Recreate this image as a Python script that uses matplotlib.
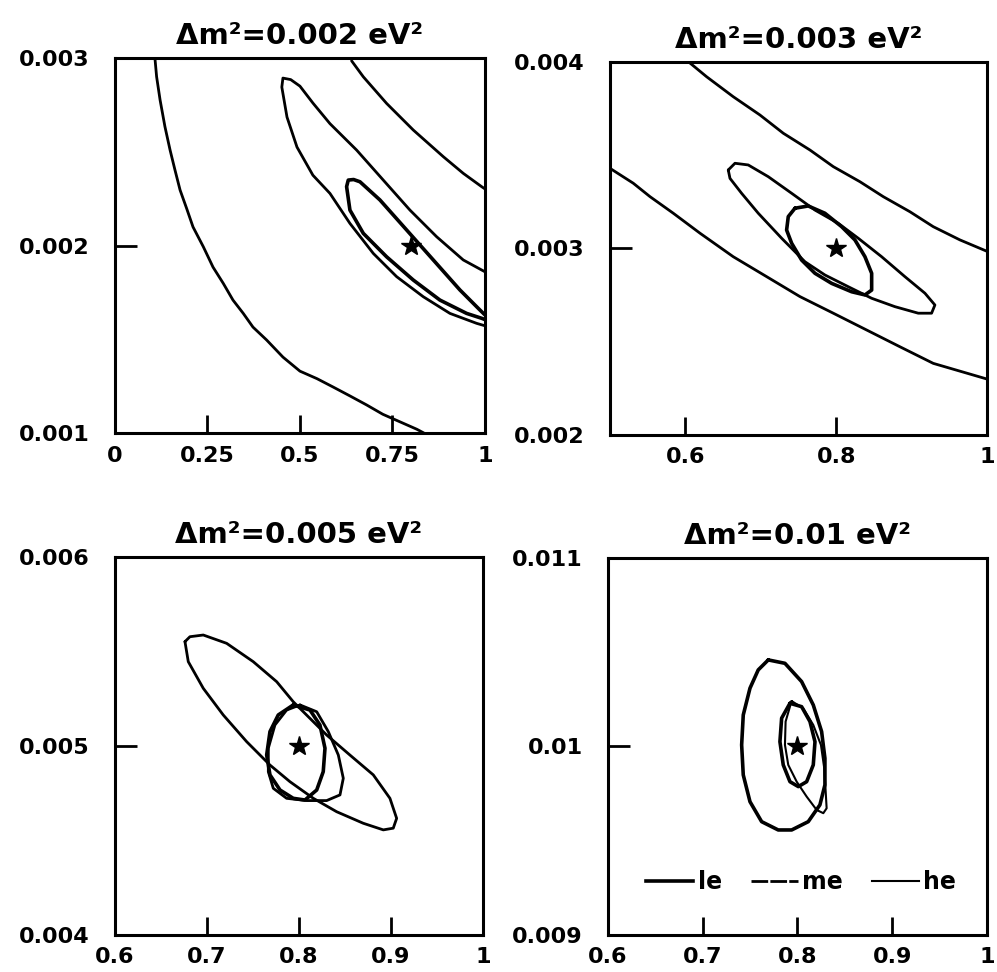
import numpy as np
import matplotlib
matplotlib.use("Agg")
import matplotlib.pyplot as plt

plt.rcParams['font.family'] = ['DejaVu Sans']
plt.rcParams['font.weight'] = 'bold'

titles = ['Δm²=0.002 eV²', 'Δm²=0.003 eV²', 'Δm²=0.005 eV²', 'Δm²=0.01 eV²']
best_x = [0.8, 0.8, 0.8, 0.8]
best_y = [0.002, 0.003, 0.005, 0.01]

# --- panel 1 (0.002 eV^2) ---
p1_band_lo_x = [0.108, 0.1126, 0.122, 0.1351, 0.149, 0.1622, 0.176, 0.1937, 0.211, 0.2387, 0.265, 0.2928,
                0.319, 0.3468, 0.373, 0.41, 0.454, 0.5, 0.546, 0.59, 0.635, 0.68, 0.724, 0.77, 0.816, 0.835]
p1_band_lo_y = [0.003, 0.0029, 0.002776, 0.002634, 0.002509, 0.002403, 0.002296, 0.002198, 0.002099,
                0.001994, 0.001885, 0.001798, 0.001709, 0.001638, 0.001565, 0.001496, 0.001405, 0.00133,
                0.00129, 0.001245, 0.001198, 0.00115, 0.0011, 0.00106, 0.00102, 0.001]
p1_band_hi_x = [0.6396, 0.6712, 0.7342, 0.8063, 0.8874, 0.9414, 0.991, 1.0]
p1_band_hi_y = [0.002985, 0.0029, 0.002758, 0.002616, 0.002474, 0.002385, 0.002314, 0.002302]
# banana: lower edge from x=1 back to the tip, then upper edge out to x=1
p1_he_x = [1.0, 0.9775, 0.9054, 0.8333, 0.7613, 0.6982, 0.6351, 0.5811, 0.535, 0.492, 0.465, 0.451,
           0.454, 0.475, 0.50, 0.535, 0.5811, 0.6532, 0.7252, 0.7973, 0.8694, 0.9414, 1.0]
p1_he_y = [0.001572, 0.001585, 0.001638, 0.001727, 0.001834, 0.001958, 0.002118, 0.002278, 0.002375,
           0.002525, 0.002685, 0.002845, 0.002893, 0.002885, 0.00285, 0.00276, 0.00265, 0.002509,
           0.002349, 0.002189, 0.002047, 0.001923, 0.00186]
p1_le_x = [1.0, 0.991, 0.9505, 0.8784, 0.8063, 0.7342, 0.6712, 0.6351, 0.6261, 0.6306, 0.645, 0.6622,
           0.7162, 0.7883, 0.8604, 0.9324, 0.9865, 1.0]
p1_le_y = [0.001605, 0.001612, 0.001638, 0.001709, 0.001816, 0.00194, 0.002065, 0.002189, 0.002314,
           0.002349, 0.002352, 0.00234, 0.002243, 0.002083, 0.001923, 0.001763, 0.001656, 0.00163]

# --- panel 2 (0.003 eV^2) ---
p2_band_hi_x = [0.6045, 0.6282, 0.6635, 0.6989, 0.7299, 0.7653, 0.7962, 0.8316, 0.8625, 0.8979, 0.9288,
                0.9642, 1.0]
p2_band_hi_y = [0.004, 0.003921, 0.003814, 0.003716, 0.003618, 0.003528, 0.003439, 0.003358, 0.003278,
                0.003197, 0.003117, 0.003046, 0.002985]
p2_band_lo_x = [0.5, 0.5309, 0.5531, 0.584, 0.6194, 0.6635, 0.7078, 0.752, 0.7962, 0.8404, 0.8846,
                0.9288, 1.0]
p2_band_lo_y = [0.00343, 0.00335, 0.003278, 0.003189, 0.003082, 0.002956, 0.002849, 0.002742, 0.002653,
                0.002563, 0.002473, 0.002384, 0.0023]
p2_he_x = [0.6569, 0.6658, 0.6834, 0.71, 0.741, 0.7719, 0.8028, 0.8293, 0.8603, 0.8912, 0.9178, 0.931,
           0.9266, 0.9089, 0.878, 0.8471, 0.8161, 0.7851, 0.7586, 0.7277, 0.6967, 0.6746, 0.6592]
p2_he_y = [0.003421, 0.003457, 0.003448, 0.003385, 0.003296, 0.003206, 0.003135, 0.003055, 0.002956,
           0.002849, 0.00276, 0.002697, 0.002653, 0.002653, 0.002688, 0.002733, 0.002795, 0.002858,
           0.002929, 0.003055, 0.003189, 0.003296, 0.003376]
p2_le_x = [0.7454, 0.763, 0.7851, 0.8073, 0.8249, 0.8382, 0.8471, 0.8471, 0.8382, 0.8205, 0.794,
           0.7719, 0.7542, 0.741, 0.7343, 0.7365]
p2_le_y = [0.003216, 0.003228, 0.003189, 0.003117, 0.003046, 0.002956, 0.002867, 0.002777, 0.002751,
           0.002768, 0.002813, 0.002867, 0.002938, 0.003028, 0.003099, 0.003171]

# --- panel 3 (0.005 eV^2) ---
p3_he_x = [0.6761, 0.6815, 0.696, 0.7214, 0.7503, 0.7758, 0.7938, 0.8301, 0.8554, 0.8808, 0.8989,
           0.9062, 0.9025, 0.8917, 0.8699, 0.841, 0.8156, 0.7902, 0.7685, 0.7431, 0.7177, 0.696, 0.6797]
p3_he_y = [0.005552, 0.005578, 0.005587, 0.005543, 0.005446, 0.00534, 0.005234, 0.005058, 0.004952,
           0.004847, 0.004723, 0.004617, 0.004565, 0.004556, 0.004591, 0.004652, 0.004723, 0.004811,
           0.004899, 0.005023, 0.005164, 0.005305, 0.005446]
p3_me_x = [0.8011, 0.8193, 0.8319, 0.8428, 0.8482, 0.8446, 0.8301, 0.8084, 0.7866, 0.7721, 0.7667,
           0.7667, 0.7739, 0.7866]
p3_me_y = [0.005217, 0.005181, 0.005076, 0.004952, 0.004829, 0.004741, 0.004711, 0.004711, 0.004723,
           0.004776, 0.004864, 0.004988, 0.005111, 0.00519]
p3_le_x = [0.7938, 0.812, 0.8228, 0.8283, 0.8264, 0.8193, 0.8065, 0.7938, 0.7794, 0.7685, 0.7649,
           0.7685, 0.7775]
p3_le_y = [0.005217, 0.00519, 0.005111, 0.004988, 0.004864, 0.004767, 0.004714, 0.004723, 0.004767,
           0.004847, 0.004952, 0.005076, 0.005164]

# --- panel 4 (0.01 eV^2) ---
p4_me_x = [0.7692, 0.7868, 0.8044, 0.8167, 0.8255, 0.829, 0.829, 0.8237, 0.8114, 0.7939, 0.7797,
           0.7622, 0.7499, 0.7428, 0.7411, 0.7428, 0.7499, 0.7586]
p4_me_y = [0.010459, 0.010441, 0.010344, 0.01022, 0.010079, 0.009937, 0.009796, 0.00969, 0.009601,
           0.009557, 0.009557, 0.009601, 0.009707, 0.009849, 0.010008, 0.010167, 0.010309, 0.010406]
p4_le_x = [0.7921, 0.8044, 0.8132, 0.8185, 0.8167, 0.8097, 0.8009, 0.7921, 0.785, 0.7815, 0.7833]
p4_le_y = [0.010229, 0.010211, 0.010132, 0.010025, 0.009902, 0.009813, 0.009787, 0.009813, 0.009902,
           0.010025, 0.01015]
p4_he_x = [0.7938, 0.8061, 0.8167, 0.8248, 0.8283, 0.8298, 0.8308, 0.8273, 0.8203, 0.8097, 0.7992,
           0.7903, 0.7868, 0.7875]
p4_he_y = [0.010241, 0.010202, 0.010114, 0.010008, 0.009884, 0.00976, 0.009672, 0.009646, 0.009663,
           0.009734, 0.009813, 0.009902, 0.010008, 0.010132]

xlims = [(0, 1), (0.5, 1), (0.6, 1), (0.6, 1)]
ylims = [(0.001, 0.003), (0.002, 0.004), (0.004, 0.006), (0.009, 0.011)]
xticks = [[0, 0.25, 0.5, 0.75, 1], [0.5, 0.6, 0.8, 1], [0.6, 0.7, 0.8, 0.9, 1], [0.6, 0.7, 0.8, 0.9, 1]]
xticklabels = [['0', '0.25', '0.5', '0.75', '1'], ['', '0.6', '0.8', '1'],
               ['0.6', '0.7', '0.8', '0.9', '1'], ['0.6', '0.7', '0.8', '0.9', '1']]
yticklabels = [['0.001', '0.002', '0.003'], ['0.002', '0.003', '0.004'],
               ['0.004', '0.005', '0.006'], ['0.009', '0.01', '0.011']]

LW = {'le': 2.6, 'me': 2.0, 'he': 1.5}


def closed(x, y):
    return list(x) + [x[0]], list(y) + [y[0]]


fig = plt.figure(figsize=(9.97, 9.72), dpi=100)
positions = [[0.1153, 0.5545, 0.3711, 0.3858], [0.6118, 0.5525, 0.3781, 0.3837],
             [0.1153, 0.0381, 0.3691, 0.3889], [0.6098, 0.0381, 0.3801, 0.3879]]
axes = [fig.add_axes(p) for p in positions]
kw = dict(color='k', solid_joinstyle='round', solid_capstyle='round')

# panel 1
ax = axes[0]
ax.plot(p1_band_lo_x, p1_band_lo_y, lw=LW['me'], **kw)
ax.plot(p1_band_hi_x, p1_band_hi_y, lw=LW['me'], **kw)
ax.plot(p1_he_x, p1_he_y, lw=LW['me'], **kw)
ax.plot(p1_le_x, p1_le_y, lw=LW['le'], **kw)

# panel 2
ax = axes[1]
ax.plot(p2_band_hi_x, p2_band_hi_y, lw=LW['me'], **kw)
ax.plot(p2_band_lo_x, p2_band_lo_y, lw=LW['me'], **kw)
ax.plot(*closed(p2_he_x, p2_he_y), lw=LW['me'], **kw)
ax.plot(*closed(p2_le_x, p2_le_y), lw=LW['le'], **kw)

# panel 3
ax = axes[2]
ax.plot(*closed(p3_he_x, p3_he_y), lw=LW['me'], **kw)
ax.plot(*closed(p3_me_x, p3_me_y), lw=LW['me'], **kw)
ax.plot(*closed(p3_le_x, p3_le_y), lw=LW['le'], **kw)

# panel 4
ax = axes[3]
ax.plot(*closed(p4_me_x, p4_me_y), lw=LW['le'], **kw)
ax.plot(*closed(p4_le_x, p4_le_y), lw=LW['le'], **kw)
ax.plot(*closed(p4_he_x, p4_he_y), lw=LW['he'], **kw)
h_le, = ax.plot([], [], color='k', lw=LW['le'], label='le')
h_me, = ax.plot([], [], color='k', lw=LW['me'], ls=(0, (6, 0.8)), label='me')
h_he, = ax.plot([], [], color='k', lw=LW['he'], label='he')
ax.legend(handles=[h_le, h_me, h_he], ncol=3, frameon=False, loc='center',
          bbox_to_anchor=(0.51, 0.14), handlelength=2.0, handletextpad=0.2,
          columnspacing=1.2, prop={'size': 17, 'weight': 'bold'})

for i, ax in enumerate(axes):
    ax.plot(best_x[i], best_y[i], marker='*', color='k', ms=15, ls='none')
    ax.set_xlim(*xlims[i])
    ax.set_ylim(*ylims[i])
    lo, hi = ylims[i]
    ax.set_yticks([lo, (lo + hi) / 2, hi])
    ax.set_yticklabels(yticklabels[i])
    ax.set_xticks(xticks[i])
    ax.set_xticklabels(xticklabels[i])
    ax.tick_params(axis='y', direction='in', length=16, width=2, pad=18, labelsize=16)
    ax.tick_params(axis='x', direction='in', length=13, width=2, pad=9, labelsize=16)
    for t in ax.get_xticklabels() + ax.get_yticklabels():
        t.set_fontweight('bold')
    for s in ax.spines.values():
        s.set_linewidth(2.2)
    ax.set_title(titles[i], fontsize=21, fontweight='bold', pad=10)

fig.savefig('out.png', dpi=100)
